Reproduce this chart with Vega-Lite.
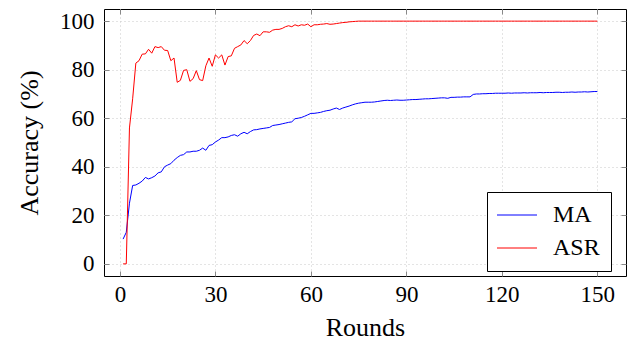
{
  "$schema": "https://vega.github.io/schema/vega-lite/v6.json",
  "width": 522,
  "height": 267,
  "autosize": {"type": "none"},
  "padding": {"left": 104, "top": 9, "right": 2, "bottom": 65},
  "background": "white",
  "config": {
    "font": "Liberation Serif",
    "view": {"stroke": "black", "strokeWidth": 1},
    "axis": {
      "domain": false,
      "grid": true,
      "gridColor": "#c8c8c8",
      "gridDash": [1, 3],
      "tickColor": "#888888",
      "tickSize": -5,
      "labelFont": "Liberation Serif",
      "titleFont": "Liberation Serif",
      "labelFontSize": 23,
      "titleFontSize": 26,
      "labelColor": "black",
      "titleColor": "black",
      "titleFontWeight": "normal"
    },
    "legend": {"labelFont": "Liberation Serif"}
  },
  "data": {"values": [
    {"round":1,"MA":10.2,"ASR":0},{"round":2,"MA":13,"ASR":0},{"round":3,"MA":25,"ASR":56},{"round":4,"MA":32.3,"ASR":68},{"round":5,"MA":32.5,"ASR":82.7},
    {"round":6,"MA":33.2,"ASR":83.7},{"round":7,"MA":34.1,"ASR":86.4},{"round":8,"MA":35.6,"ASR":86.5},{"round":9,"MA":35,"ASR":88.4},{"round":10,"MA":35.5,"ASR":86.8},
    {"round":11,"MA":36.2,"ASR":89.5},{"round":12,"MA":37.5,"ASR":89.1},{"round":13,"MA":37.9,"ASR":89.5},{"round":14,"MA":40,"ASR":88},{"round":15,"MA":40.7,"ASR":87.9},
    {"round":16,"MA":41.3,"ASR":83.7},{"round":17,"MA":42.7,"ASR":84.8},{"round":18,"MA":43.8,"ASR":74.8},{"round":19,"MA":44.7,"ASR":75.6},{"round":20,"MA":45,"ASR":79.7},
    {"round":21,"MA":46.1,"ASR":80},{"round":22,"MA":46.1,"ASR":75.2},{"round":23,"MA":46.4,"ASR":76.3},{"round":24,"MA":46.4,"ASR":79.6},{"round":25,"MA":46.8,"ASR":75.9},
    {"round":26,"MA":47.7,"ASR":75.5},{"round":27,"MA":46.8,"ASR":81.6},{"round":28,"MA":48.8,"ASR":84.8},{"round":29,"MA":49.1,"ASR":81.4},{"round":30,"MA":50.2,"ASR":86.1},
    {"round":31,"MA":51,"ASR":84.8},{"round":32,"MA":52,"ASR":86.1},{"round":33,"MA":52,"ASR":81.9},{"round":34,"MA":52.3,"ASR":85.4},{"round":35,"MA":52.9,"ASR":85.7},
    {"round":36,"MA":53.2,"ASR":88.8},{"round":37,"MA":52.6,"ASR":89.5},{"round":38,"MA":53.6,"ASR":90.2},{"round":39,"MA":54.2,"ASR":92},{"round":40,"MA":53.6,"ASR":90.7},
    {"round":41,"MA":54.5,"ASR":92},{"round":42,"MA":55.2,"ASR":94.1},{"round":43,"MA":55.3,"ASR":94.7},{"round":44,"MA":55.6,"ASR":94},{"round":45,"MA":55.8,"ASR":95.6},
    {"round":46,"MA":56,"ASR":95.6},{"round":47,"MA":56.2,"ASR":95.4},{"round":48,"MA":57,"ASR":96.3},{"round":49,"MA":57.2,"ASR":96.6},{"round":50,"MA":57.4,"ASR":96.6},
    {"round":51,"MA":57.7,"ASR":97},{"round":52,"MA":58,"ASR":97.7},{"round":53,"MA":58.3,"ASR":98.1},{"round":54,"MA":58.5,"ASR":97.7},{"round":55,"MA":59.8,"ASR":98.5},
    {"round":56,"MA":60,"ASR":98},{"round":57,"MA":60.3,"ASR":98.5},{"round":58,"MA":60.8,"ASR":98.3},{"round":59,"MA":61.4,"ASR":98.8},{"round":60,"MA":62,"ASR":97.7},
    {"round":61,"MA":62,"ASR":98.5},{"round":62,"MA":62.2,"ASR":98.5},{"round":63,"MA":62.4,"ASR":98.7},{"round":64,"MA":62.8,"ASR":98.8},{"round":65,"MA":63.1,"ASR":99},
    {"round":66,"MA":63.3,"ASR":98.7},{"round":67,"MA":63.8,"ASR":98.8},{"round":68,"MA":64.2,"ASR":99},{"round":69,"MA":63.6,"ASR":99.2},{"round":70,"MA":64.2,"ASR":99.4},
    {"round":71,"MA":64.6,"ASR":99.5},{"round":72,"MA":65,"ASR":99.7},{"round":73,"MA":65.5,"ASR":99.8},{"round":74,"MA":65.9,"ASR":99.9},{"round":75,"MA":66.2,"ASR":100},
    {"round":76,"MA":66.4,"ASR":100},{"round":77,"MA":66.6,"ASR":100},{"round":78,"MA":66.6,"ASR":100},{"round":79,"MA":66.6,"ASR":100},{"round":80,"MA":66.7,"ASR":100},
    {"round":81,"MA":66.9,"ASR":100},{"round":82,"MA":67.1,"ASR":100},{"round":83,"MA":67.3,"ASR":100},{"round":84,"MA":67.4,"ASR":100},{"round":85,"MA":67.3,"ASR":100},
    {"round":86,"MA":67.4,"ASR":100},{"round":87,"MA":67.5,"ASR":100},{"round":88,"MA":67.4,"ASR":100},{"round":89,"MA":67.4,"ASR":100},{"round":90,"MA":67.5,"ASR":100},
    {"round":91,"MA":67.6,"ASR":100},{"round":92,"MA":67.7,"ASR":100},{"round":93,"MA":67.7,"ASR":100},{"round":94,"MA":67.8,"ASR":100},{"round":95,"MA":67.9,"ASR":100},
    {"round":96,"MA":68,"ASR":100},{"round":97,"MA":68,"ASR":100},{"round":98,"MA":68.1,"ASR":100},{"round":99,"MA":68.2,"ASR":100},{"round":100,"MA":68.3,"ASR":100},
    {"round":101,"MA":68.4,"ASR":100},{"round":102,"MA":68.4,"ASR":100},{"round":103,"MA":68.2,"ASR":100},{"round":104,"MA":68.6,"ASR":100},{"round":105,"MA":68.6,"ASR":100},
    {"round":106,"MA":68.7,"ASR":100},{"round":107,"MA":68.7,"ASR":100},{"round":108,"MA":68.8,"ASR":100},{"round":109,"MA":68.8,"ASR":100},{"round":110,"MA":68.8,"ASR":100},
    {"round":111,"MA":69.8,"ASR":100},{"round":112,"MA":70,"ASR":100},{"round":113,"MA":70,"ASR":100},{"round":114,"MA":70.1,"ASR":100},{"round":115,"MA":70.1,"ASR":100},
    {"round":116,"MA":70.2,"ASR":100},{"round":117,"MA":70.2,"ASR":100},{"round":118,"MA":70.3,"ASR":100},{"round":119,"MA":70.3,"ASR":100},{"round":120,"MA":70.3,"ASR":100},
    {"round":121,"MA":70.3,"ASR":100},{"round":122,"MA":70.4,"ASR":100},{"round":123,"MA":70.3,"ASR":100},{"round":124,"MA":70.4,"ASR":100},{"round":125,"MA":70.4,"ASR":100},
    {"round":126,"MA":70.4,"ASR":100},{"round":127,"MA":70.5,"ASR":100},{"round":128,"MA":70.4,"ASR":100},{"round":129,"MA":70.5,"ASR":100},{"round":130,"MA":70.5,"ASR":100},
    {"round":131,"MA":70.5,"ASR":100},{"round":132,"MA":70.6,"ASR":100},{"round":133,"MA":70.5,"ASR":100},{"round":134,"MA":70.6,"ASR":100},{"round":135,"MA":70.6,"ASR":100},
    {"round":136,"MA":70.6,"ASR":100},{"round":137,"MA":70.7,"ASR":100},{"round":138,"MA":70.7,"ASR":100},{"round":139,"MA":70.6,"ASR":100},{"round":140,"MA":70.7,"ASR":100},
    {"round":141,"MA":70.7,"ASR":100},{"round":142,"MA":70.8,"ASR":100},{"round":143,"MA":70.7,"ASR":100},{"round":144,"MA":70.8,"ASR":100},{"round":145,"MA":70.8,"ASR":100},
    {"round":146,"MA":70.9,"ASR":100},{"round":147,"MA":70.8,"ASR":100},{"round":148,"MA":70.9,"ASR":100},{"round":149,"MA":71,"ASR":100},{"round":150,"MA":71,"ASR":100}
  ]},
  "transform": [{"fold": ["MA", "ASR"], "as": ["series", "acc"]}],
  "layer": [
    {
      "mark": {"type": "line", "strokeWidth": 1},
      "encoding": {
        "x": {"field": "round", "type": "quantitative",
              "scale": {"domain": [-5, 159], "nice": false, "zero": false},
              "axis": {"values": [0, 30, 60, 90, 120, 150], "title": "Rounds", "labelPadding": 12, "titlePadding": 8}},
        "y": {"field": "acc", "type": "quantitative",
              "scale": {"domain": [-5, 105], "nice": false, "zero": false},
              "axis": {"values": [0, 20, 40, 60, 80, 100], "title": "Accuracy (%)", "labelPadding": 15, "titlePadding": 17}},
        "color": {"field": "series", "type": "nominal",
                  "scale": {"domain": ["MA", "ASR"], "range": ["#0000ff", "#ff0000"]},
                  "legend": {"orient": "none", "legendX": 383, "legendY": 183, "title": null,
                             "strokeColor": "black", "fillColor": "white", "padding": 11,
                             "symbolType": "M-2,0H2", "symbolSize": 400, "symbolStrokeWidth": 1, "symbolOffset": 7,
                             "labelFont": "Liberation Serif", "labelFontSize": 24, "labelColor": "black", "labelOffset": 24, "rowPadding": 9}}
      }
    },
    {
      "mark": {"type": "line", "opacity": 0},
      "encoding": {
        "x": {"field": "round", "type": "quantitative",
              "axis": {"orient": "top", "values": [0, 30, 60, 90, 120, 150], "labels": false, "grid": false, "title": null}},
        "y": {"field": "acc", "type": "quantitative",
              "axis": {"orient": "right", "values": [0, 20, 40, 60, 80, 100], "labels": false, "grid": false, "title": null}}
      }
    }
  ],
  "resolve": {"axis": {"x": "independent", "y": "independent"}}
}
